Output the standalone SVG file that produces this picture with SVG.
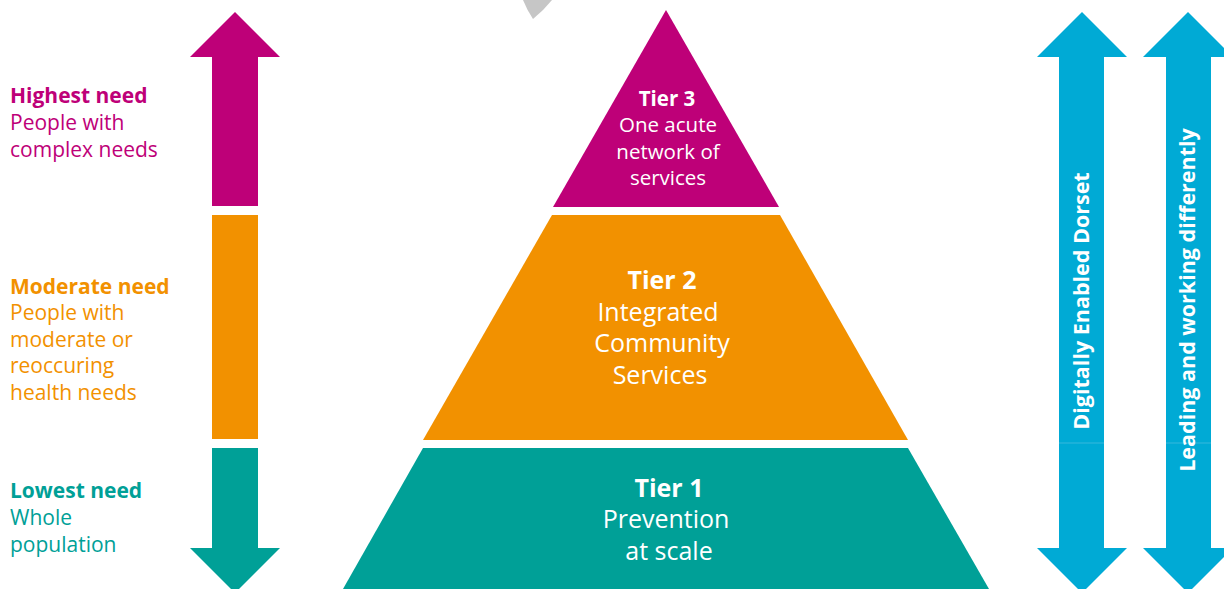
<svg xmlns="http://www.w3.org/2000/svg" width="1224" height="589" viewBox="0 0 1224 589">
<style>
text{font-family:"Open Sans","Liberation Sans",sans-serif;}
.w{fill:#ffffff;text-anchor:middle;}
.b{font-weight:bold;}
.lbl{font-size:21px;}
.t3{font-size:20.5px;}
.t12{font-size:25px;}
.vt{font-size:21.5px;}
.mag{fill:#be0078;}
.org{fill:#f29100;}
.tea{fill:#00a097;}
.blu{fill:#00aad5;}
</style>
<rect width="1224" height="589" fill="#ffffff"/>
<path d="M523,0 L552,0 Q544,10 533,19 Q527,10 523,0 Z" fill="#c6c6c6"/>

<g id="need-arrow">
  <path class="mag" d="M235,12 L280,57 L258,57 L258,206 L212,206 L212,57 L190,57 Z"/>
  <rect class="org" x="212" y="215" width="46" height="224"/>
  <path class="tea" d="M212,448 L258,448 L258,548 L280,548 L235,593 L190,548 L212,548 Z"/>
</g>

<g id="label-highest">
  <text class="lbl mag b" x="10" y="103">Highest need</text>
  <text class="lbl mag" x="10" y="130">People with</text>
  <text class="lbl mag" x="10" y="157">complex needs</text>
</g>
<g id="label-moderate">
  <text class="lbl org b" x="10" y="294">Moderate need</text>
  <text class="lbl org" x="10" y="320">People with</text>
  <text class="lbl org" x="10" y="347">moderate or</text>
  <text class="lbl org" x="10" y="373">reoccuring</text>
  <text class="lbl org" x="10" y="400">health needs</text>
</g>
<g id="label-lowest">
  <text class="lbl tea b" x="10" y="498">Lowest need</text>
  <text class="lbl tea" x="10" y="525">Whole</text>
  <text class="lbl tea" x="10" y="552">population</text>
</g>

<g id="tier3">
  <path class="mag" d="M666,10 L779,207 L553,207 Z"/>
  <text class="w b t3" x="667" y="106">Tier 3</text>
  <text class="w t3" x="668" y="132">One acute</text>
  <text class="w t3" x="668" y="159">network of</text>
  <text class="w t3" x="668" y="185">services</text>
</g>
<g id="tier2">
  <path class="org" d="M552,215 L780,215 L908,440 L423,440 Z"/>
  <text class="w b t12" x="662" y="289">Tier 2</text>
  <text class="w t12" x="658" y="321">Integrated</text>
  <text class="w t12" x="662" y="352">Community</text>
  <text class="w t12" x="660" y="384">Services</text>
</g>
<g id="tier1">
  <path class="tea" d="M423,448 L908,448 L989,589 L343,589 Z"/>
  <text class="w b t12" x="669" y="497">Tier 1</text>
  <text class="w t12" x="666" y="528">Prevention</text>
  <text class="w t12" x="669" y="560">at scale</text>
</g>

<g id="digital-arrow">
  <path class="blu" d="M1082,12 L1127,57 L1104,57 L1104,548 L1127,548 L1082,593 L1037,548 L1059,548 L1059,57 L1037,57 Z"/>
  <line x1="1059" y1="443" x2="1104" y2="443" stroke="#5cc4e4" stroke-width="0.6"/>
  <text class="w b vt" transform="translate(1089,301) rotate(-90)">Digitally Enabled Dorset</text>
</g>
<g id="leading-arrow">
  <path class="blu" d="M1188,12 L1233,57 L1211,57 L1211,548 L1233,548 L1188,593 L1143,548 L1166,548 L1166,57 L1143,57 Z"/>
  <line x1="1166" y1="443" x2="1211" y2="443" stroke="#5cc4e4" stroke-width="0.6"/>
  <text class="w b vt" transform="translate(1195,300) rotate(-90)">Leading and working differently</text>
</g>
</svg>
